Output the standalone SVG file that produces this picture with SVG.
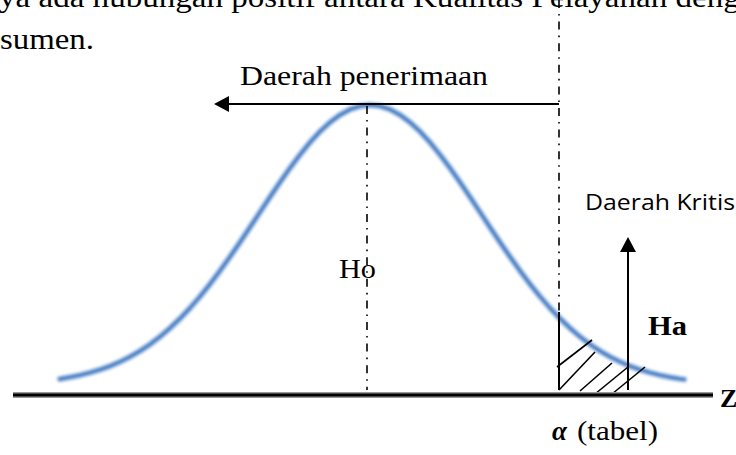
<svg xmlns="http://www.w3.org/2000/svg" width="736" height="455" viewBox="0 0 736 455">
<style>
.dd{stroke:#000;stroke-width:1.6;stroke-dasharray:8 6 1.6 6;fill:none}
.ln{stroke:#000;stroke-width:2;fill:none}
.hatch{stroke:#000;stroke-width:1.6;fill:none}
.bellhalo{fill:none;stroke:#9dbde4;stroke-width:7;opacity:0.8}
.bellcore{fill:none;stroke:#4f84c6;stroke-width:3.4}
</style>
<defs>
<marker id="ah" markerUnits="userSpaceOnUse" markerWidth="16" markerHeight="16" refX="3" refY="8" orient="auto">
<path d="M0,0 L15,8 L0,16 z" fill="#000"/>
</marker>
<filter id="soft" x="-5%" y="-5%" width="110%" height="110%"><feGaussianBlur stdDeviation="0.9"/></filter>
<path id="bellpath" d="M60,379 L70,377.2 L80,375.2 L90,372.7 L100,369.7 L110,366.1 L120,361.8 L130,356.8 L140,351 L150,344.3 L160,336.7 L170,328.1 L180,318.6 L190,308 L200,296.5 L210,284.1 L220,270.8 L230,256.8 L240,242.2 L250,227.3 L260,212.1 L270,197 L280,182.3 L290,168.1 L300,154.7 L310,142.4 L320,131.5 L330,122.3 L340,114.9 L350,109.4 L360,106.1 L370,105 L380,106.1 L390,109.4 L400,114.9 L410,122.3 L420,131.5 L430,142.4 L440,154.7 L450,168.1 L460,182.3 L470,197 L480,212.1 L490,227.3 L500,242.2 L510,256.8 L520,270.8 L530,284.1 L540,296.5 L550,308 L560,318.6 L570,328.1 L580,336.7 L590,344.3 L600,351 L610,356.8 L620,361.8 L630,366.1 L640,369.7 L650,372.7 L660,375.2 L670,377.2 L680,378.9 L684,379.4" stroke-linejoin="round" stroke-linecap="round"/>
</defs>
<rect width="736" height="455" fill="#fff"/>
<g id="document-text" font-family="Liberation Serif, Times New Roman, serif" font-size="29" fill="#000">
<text x="-1" y="7" textLength="772" lengthAdjust="spacingAndGlyphs">ya ada hubungan positif antara Kualitas Pelayanan dengan</text>
<text x="0" y="49" textLength="94" lengthAdjust="spacingAndGlyphs">sumen.</text>
</g>
<g id="bell-curve" filter="url(#soft)">
<use href="#bellpath" class="bellhalo"/>
<use href="#bellpath" class="bellcore"/>
</g>
<g id="connectors">
<line class="dd" x1="559" y1="0" x2="559" y2="313"/>
<line class="dd" x1="367" y1="106" x2="367" y2="390"/>
<line class="ln" x1="559" y1="104" x2="226" y2="104" marker-end="url(#ah)"/>
<line class="ln" x1="628" y1="390" x2="628" y2="249" marker-end="url(#ah)"/>
<line class="ln" x1="559" y1="312" x2="559" y2="390"/>
</g>
<g id="hatch">
<line class="hatch" x1="557" y1="367" x2="592" y2="340"/>
<line class="hatch" x1="559" y1="390" x2="595" y2="352"/>
<line class="hatch" x1="580" y1="391" x2="612" y2="363"/>
<line class="hatch" x1="595" y1="394" x2="628" y2="367"/>
<line class="hatch" x1="612" y1="394" x2="645" y2="367"/>
</g>
<g id="axis">
<line x1="13" y1="395" x2="713" y2="395" stroke="#999" stroke-width="6"/>
<line x1="13" y1="395" x2="713" y2="395" stroke="#000" stroke-width="3"/>
</g>
<g id="labels" font-family="Liberation Serif, Times New Roman, serif" fill="#000">
<text x="240" y="85" font-size="27" textLength="248" lengthAdjust="spacingAndGlyphs">Daerah penerimaan</text>
<text x="339" y="278" font-size="27" textLength="37" lengthAdjust="spacingAndGlyphs">Ho</text>
<text x="585" y="210" font-size="22" font-family="Open Sans, Liberation Sans, Arial, sans-serif" textLength="150" lengthAdjust="spacingAndGlyphs">Daerah Kritis</text>
<text x="648" y="335" font-size="28" font-weight="bold" textLength="39" lengthAdjust="spacingAndGlyphs">Ha</text>
<text x="720" y="407" font-size="26" font-weight="bold">Z</text>
<text x="552" y="440" font-size="27" font-weight="bold" font-style="italic">α</text>
<text x="577" y="440" font-size="27" textLength="81" lengthAdjust="spacingAndGlyphs">(tabel)</text>
</g>
</svg>
